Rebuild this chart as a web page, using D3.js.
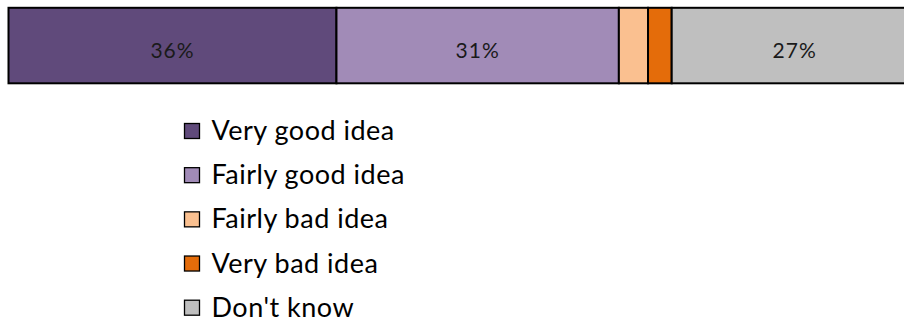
<!DOCTYPE html>
<html>
<head>
<meta charset="utf-8">
<script src="https://cdn.jsdelivr.net/npm/d3@7"></script>
<style>
  html, body { margin: 0; padding: 0; background: #fff; overflow: hidden; }
  svg { display: block; font-family: Lato, "Open Sans", sans-serif; }
</style>
</head>
<body>
<svg id="chart" width="904" height="322"></svg>
<script>
// Survey responses, one stacked bar (percent of respondents)
const categories = ["Very good idea", "Fairly good idea", "Fairly bad idea", "Very bad idea", "Don't know"];
const values = [36, 31, 3.2, 2.6, 27];
const colors = ["#604a7b", "#a18bb7", "#fac090", "#e46c0a", "#bfbfbf"];
const labels = ["36%", "31%", "", "", "27%"];

const svg = d3.select("#chart");

// Horizontal scale: 0–100% across the bar (the bar runs past the right edge)
const x = d3.scaleLinear().domain([0, 100]).range([8.5, 919.5]);
const barTop = 7.8, barH = 75.5;

let acc = 0;
const segs = values.map((v, i) => {
  const s = { i, v, x0: acc, x1: acc + v, color: colors[i], label: labels[i] };
  acc += v;
  return s;
});

const bar = svg.append("g");
bar.selectAll("rect")
  .data(segs)
  .join("rect")
  .attr("x", d => x(d.x0))
  .attr("y", barTop)
  .attr("width", d => x(d.x1) - x(d.x0))
  .attr("height", barH)
  .attr("fill", d => d.color)
  .attr("stroke", "#000")
  .attr("stroke-width", 2);

bar.selectAll("text")
  .data(segs.filter(d => d.label))
  .join("text")
  .attr("x", d => (x(d.x0) + x(d.x1)) / 2)
  .attr("y", 57.5)
  .attr("text-anchor", "middle")
  .attr("font-size", 21)
  .attr("letter-spacing", 1)
  .attr("fill", "#1a1a1a")
  .text(d => d.label);

// Legend, one entry per row
const rowY = d3.scalePoint().domain(categories).range([140, 316.7]);
const legend = svg.append("g");
const items = legend.selectAll("g")
  .data(categories.map((c, i) => ({ c, color: colors[i] })))
  .join("g")
  .attr("transform", d => `translate(0,${rowY(d.c)})`);

items.append("rect")
  .attr("x", 184.5)
  .attr("y", -16.5)
  .attr("width", 15)
  .attr("height", 15)
  .attr("fill", d => d.color)
  .attr("stroke", "#000")
  .attr("stroke-width", 1.3);

items.append("text")
  .attr("x", 211.5)
  .attr("y", 0)
  .attr("font-size", 27)
  .attr("letter-spacing", 0.5)
  .attr("fill", "#000")
  .text(d => d.c);
</script>
</body>
</html>
